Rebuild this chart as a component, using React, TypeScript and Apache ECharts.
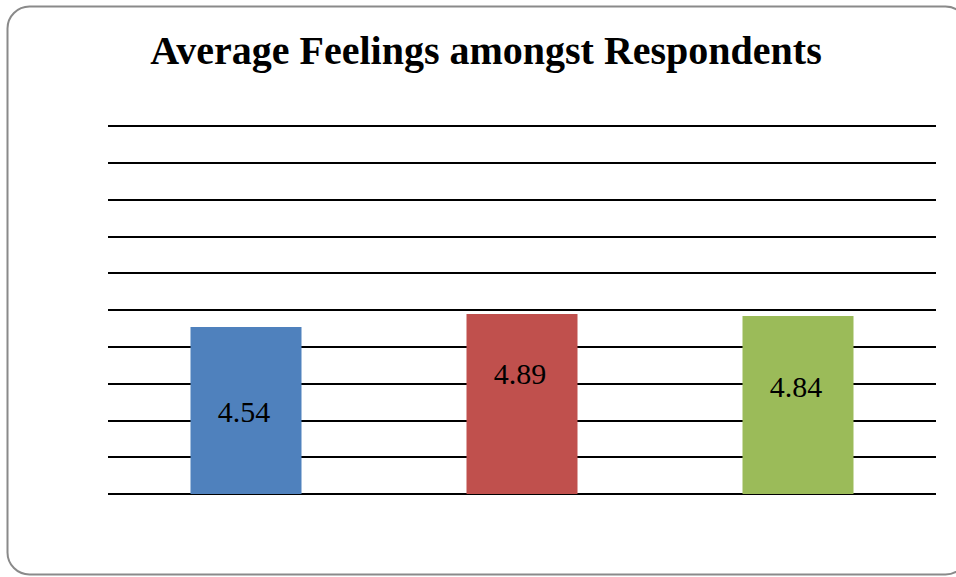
import React, { useEffect, useRef } from "react";
import * as echarts from "echarts";

const categories = ["A", "B", "C"];
const values = [4.54, 4.89, 4.84];
const barColors = ["#4F81BD", "#C0504D", "#9BBB59"];
const labelOffsets = [1, -31, -18];
const titleText = "Average Feelings amongst Respondents";

const serif = "Liberation Serif";

export default function App() {
  const ref = useRef<HTMLDivElement>(null);
  useEffect(() => {
    if (!ref.current) return;
    const chart = echarts.init(ref.current, null, { renderer: "svg" });
    chart.setOption({
      animation: false,
      backgroundColor: "#ffffff",
      textStyle: { fontFamily: serif },
      title: {
        text: titleText,
        left: 481,
        textAlign: "center",
        top: 25,
        textStyle: {
          fontFamily: serif,
          fontWeight: "bold",
          fontSize: 40,
          color: "#000",
        },
      },
      graphic: [
        {
          type: "rect",
          shape: { x: 7.5, y: 6.5, width: 960, height: 568, r: 22 },
          style: { fill: "none", stroke: "#8a8a8a", lineWidth: 2 },
          silent: true,
        },
      ],
      grid: { left: 108, right: 20, top: 126, bottom: 83, containLabel: false },
      xAxis: {
        type: "category",
        data: categories,
        axisLine: { show: false },
        axisTick: { show: false },
        axisLabel: { show: false },
      },
      yAxis: {
        type: "value",
        min: 0,
        max: 10,
        interval: 1,
        axisLine: { show: false },
        axisTick: { show: false },
        axisLabel: { show: false },
        splitLine: { lineStyle: { color: "#000", width: 2 } },
      },
      series: [
        {
          type: "bar",
          barWidth: 111,
          data: values.map((v, i) => ({
            value: v,
            itemStyle: { color: barColors[i] },
            label: { offset: [-2, labelOffsets[i]] },
          })),
          label: {
            show: true,
            position: "inside",
            fontFamily: serif,
            fontWeight: "normal",
            color: "#000",
            fontSize: 30,
            textBorderWidth: 0,
          },
        },
      ],
    });
    return () => chart.dispose();
  }, []);
  return (
    <div
      ref={ref}
      style={{ position: "absolute", left: 0, top: 0, width: 956, height: 577 }}
    />
  );
}
